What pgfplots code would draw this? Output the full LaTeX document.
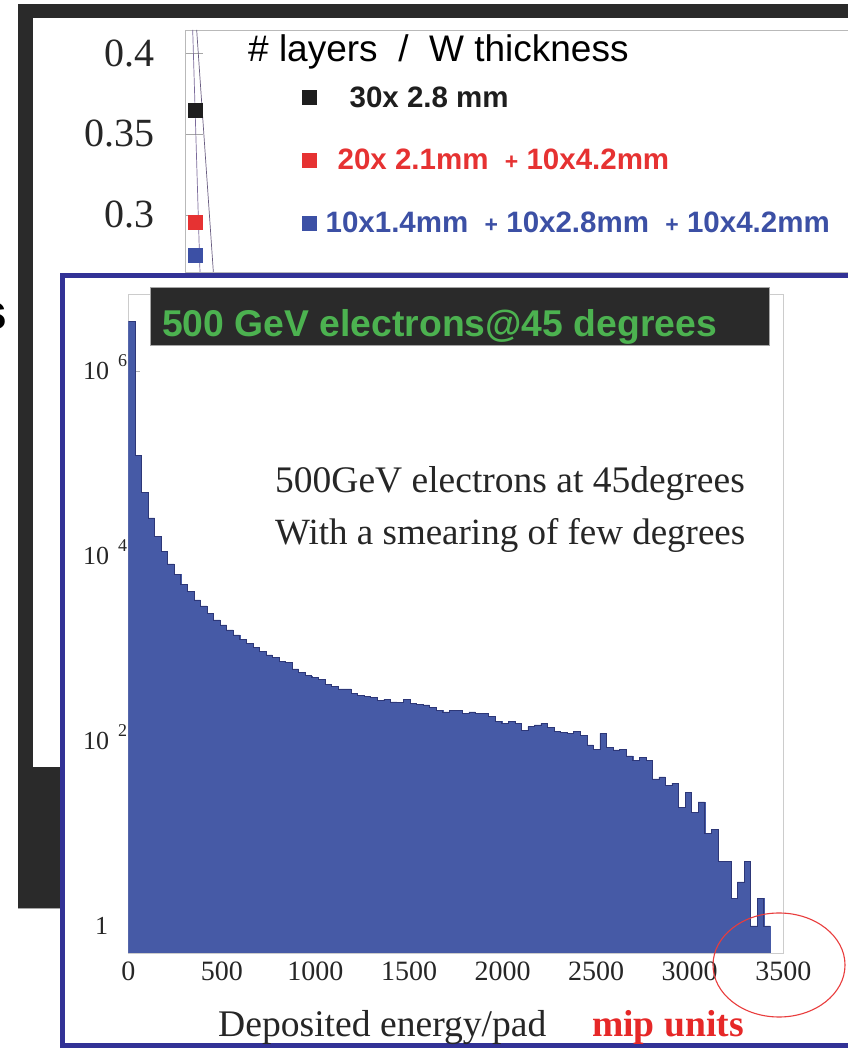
\documentclass[border=0pt]{standalone}
\usepackage{fontspec}
\setmainfont{Liberation Serif}
\newfontfamily\sansf{Liberation Sans}
\usepackage{pgfplots}
\usepackage{pgfplotstable}
\pgfplotsset{compat=1.18}
\definecolor{darkframe}{RGB}{42,42,42}
\definecolor{panelblue}{RGB}{50,50,150}
\definecolor{histblue}{RGB}{70,90,166}
\definecolor{histedge}{RGB}{45,55,120}
\definecolor{titlegreen}{RGB}{76,178,80}
\definecolor{legred}{RGB}{230,50,50}
\definecolor{legblue}{RGB}{60,80,165}
\definecolor{legblack}{RGB}{30,30,30}
\definecolor{mipred}{RGB}{230,40,40}
\definecolor{curve}{RGB}{90,70,130}

\pgfplotstableread{
x y
0 3410000
35 121400
70 48300
105 25760
140 16180
175 11130
210 8200
245 6340
280 4940
315 4110
350 3345
385 2880
420 2404
455 2032
490 1795
525 1585
560 1400
595 1257
630 1138
665 1020
700 923
735 851
770 796
805 720
840 702
875 600
910 547
945 508
980 488
1015 465
1050 410
1085 386
1120 365
1155 365
1190 328
1225 314
1260 301
1295 297
1330 273
1365 284
1400 264
1435 260
1470 284
1505 256
1540 250
1575 245
1610 231
1645 216
1680 206
1715 216
1750 216
1785 198
1820 206
1855 199
1890 199
1925 183
1960 162
1995 155
2030 162
2065 155
2100 129
2135 143
2170 149
2205 155
2240 141
2275 128
2310 124
2345 121
2380 126
2415 116
2450 91
2485 81
2520 121
2555 85
2590 80
2625 81
2660 69
2695 62
2730 67
2765 62
2800 39
2835 41
2870 33
2905 35
2940 19
2975 28
3010 17
3045 22
3080 10
3115 11
3150 5
3185 5
3220 2
3255 3
3290 5
3325 1
3360 2
3395 1
3430 1
}\histdata

\begin{document}
\begin{tikzpicture}[x=1pt,y=1pt]
\useasboundingbox (0,0) rectangle (847,1048);
\fill[white] (0,0) rectangle (847,1048);
% slide frame behind
\fill[darkframe] (18,140) rectangle (870,1044);
\fill[white] (33,281) rectangle (870,1030);
\draw[gray!70, line width=1pt] (18,139.5) -- (62,139.5);
\node[anchor=base east, inner sep=0pt, font=\sansf\bfseries\fontsize{50}{50}\selectfont] at (7.5,718) {s};

% upper (background) plot
\begin{axis}[
  at={(185pt,776pt)}, anchor=south west,
  scale only axis, width=675pt, height=242pt,
  xmin=0, xmax=100, ymin=0.2648, ymax=0.4142,
  xtick=\empty,
  ytick={0.3,0.35,0.4}, yticklabels={0.3,0.35,0.4},
  ytick pos=left,
  major tick length=18pt,
  tick style={gray!70, line width=0.6pt},
  axis line style={gray!55, line width=0.8pt},
  yticklabel style={inner sep=0pt, xshift=-30pt, font=\fontsize{40}{40}\selectfont, text=black!85},
  clip=false,
  legend cell align=left,
  legend style={draw=none, fill=none, at={(0.174,0.775)}, anchor=north west,
    inner sep=0pt, row sep=36.5pt,
    font=\sansf\bfseries\fontsize{29.5}{29.5}\selectfont,
    nodes={inner sep=2pt}},
]
\addplot[curve!80, line width=0.7pt, forget plot] coordinates {(1.14,0.4142) (2.22,0.2648)};
\addplot[curve!60!gray, line width=0.7pt, forget plot] coordinates {(1.73,0.4142) (4.2,0.2648)};
\addplot[only marks, mark=square*, mark size=7pt, legblack] coordinates {(1.45,0.3648)};
\addlegendentry{\textcolor{legblack}{\hspace{31pt}30x 2.8 mm}}
\addplot[only marks, mark=square*, mark size=7pt, legred] coordinates {(1.45,0.2957)};
\addlegendentry{\textcolor{legred}{\hspace{19pt}20x 2.1mm \ {\fontsize{23}{23}\selectfont +} 10x4.2mm}}
\addplot[only marks, mark=square*, mark size=7pt, legblue] coordinates {(1.45,0.2753)};
\addlegendentry{\textcolor{legblue}{\hspace{7pt}10x1.4mm \ {\fontsize{23}{23}\selectfont +} 10x2.8mm \ {\fontsize{23}{23}\selectfont +} 10x4.2mm}}
\end{axis}
\node[anchor=base west, inner sep=0pt, font=\sansf\fontsize{37}{37}\selectfont] at (248,986) {\# layers \ / \ W thickness};

% front panel
\draw[panelblue, line width=5pt, fill=white] (62.5,2) rectangle (900,772.5);

\begin{axis}[
  at={(128.3pt,95pt)}, anchor=south west,
  scale only axis, width=655pt, height=659pt,
  xmin=0, xmax=3500, ymode=log, ymin=0.51, ymax=6.8e6,
  log origin=infty,
  xtick={0,500,1000,1500,2000,2500,3000,3500},
  xticklabels={0,500,1000,1500,2000,2500,3000,3500},
  ytick={1,100,10000,1000000},
  yticklabels={
    {1\kern19pt},
    {10\kern9pt\smash{\raisebox{13pt}{\fontsize{18}{18}\selectfont 2}}},
    {10\kern9pt\smash{\raisebox{13pt}{\fontsize{18}{18}\selectfont 4}}},
    {10\kern9pt\smash{\raisebox{13pt}{\fontsize{18}{18}\selectfont 6}}}},
  xtick pos=bottom, ytick pos=left,
  minor tick num=0,
  major tick length=12pt,
  tick style={gray!60, line width=0.6pt},
  axis line style={gray!40, line width=0.8pt},
  yticklabel style={inner sep=0pt, xshift=-1pt, font=\fontsize{26}{26}\selectfont, text=black!85},
  xticklabel style={font=\fontsize{28}{28}\selectfont, text=black!85, inner sep=0pt, yshift=-9pt},
]
\addplot[ybar interval, fill=histblue, draw=histblue, line width=0.3pt] table[x=x,y=y] {\histdata};
\addplot[const plot, histedge, line width=0.5pt] table[x=x,y=y] {\histdata};
\end{axis}

% title box
\filldraw[fill=darkframe, draw=gray!70, line width=0.8pt] (150,703) rectangle (769,761);
\node[anchor=base west, inner sep=0pt, text=titlegreen, font=\sansf\bfseries\fontsize{37.3}{37.3}\selectfont] at (162,711) {500 GeV electrons@45 degrees};

% annotations
\node[anchor=base west, inner sep=0pt, font=\fontsize{37.5}{37.5}\selectfont, text=black!85] at (275,555) {500GeV electrons at 45degrees};
\node[anchor=base west, inner sep=0pt, font=\fontsize{37}{37}\selectfont, text=black!85] at (275,503) {With a smearing of few degrees};
\node[anchor=base west, inner sep=0pt, font=\fontsize{37.6}{37.6}\selectfont, text=black!85] at (218,11) {Deposited energy/pad};
\node[anchor=base west, inner sep=0pt, font=\bfseries\fontsize{37.6}{37.6}\selectfont, text=mipred] at (592,11) {mip units};

\draw[mipred!90, line width=1.1pt] (779,83) ellipse [x radius=66, y radius=52];
\end{tikzpicture}
\end{document}
